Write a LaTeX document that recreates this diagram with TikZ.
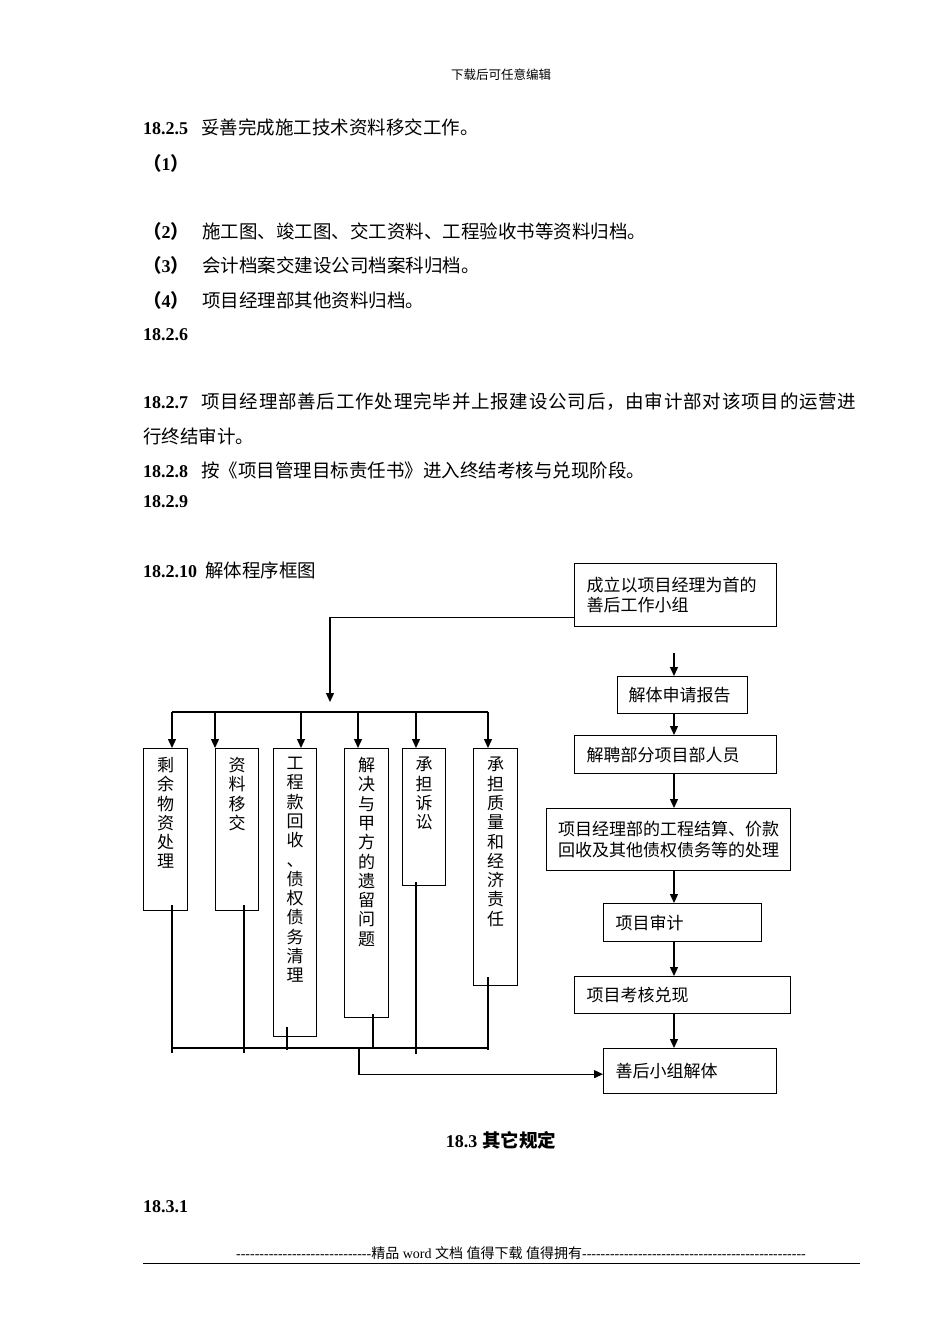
\documentclass[tikz,border=0pt]{standalone}
\usepackage{fontspec}
\setmainfont{Liberation Serif}
\newfontfamily\cjk{Noto Sans CJK SC}
\usetikzlibrary{positioning,arrows.meta}

\newcommand{\secno}[1]{{\rmfamily\bfseries\fontsize{18}{22}\selectfont #1}}
\newcommand{\bodyfont}{\cjk\fontsize{18.5}{22}\selectfont}
\newcommand{\boxfont}{\cjk\fontsize{17}{20.5}\selectfont}
\newcommand{\dashrun}[1]{\foreach \i in {1,...,#1}{-\kern0pt}}
\def\spreadloop#1{\ifx\relax#1\else#1\hfill\expandafter\spreadloop\fi}
\newcommand{\spreadto}[2]{\makebox[#1][l]{\spreadloop#2\relax}}

\begin{document}
\begin{tikzpicture}[x=1pt, y=-1pt]
    \tikzstyle{wire}=[line width=1.3pt]
    \tikzstyle{arr}=[wire, -{Triangle[length=9pt,width=8pt]}]
    \tikzstyle{body}=[anchor=west, inner sep=0pt, font=\bodyfont]
    \tikzstyle{hbox}=[draw, wire, anchor=north west, align=left, inner xsep=12pt, inner ysep=0pt, font=\boxfont]
    \tikzstyle{vbox}=[draw, wire, anchor=north west, inner sep=0pt]
    \tikzstyle{vtext}=[align=center, inner sep=0pt, font=\cjk\fontsize{17}{19.3}\selectfont]

    \fill[white] (0,0) rectangle (950,1344);
    \useasboundingbox (0,0) rectangle (950,1344);

    % page text
    \node[font=\cjk\fontsize{12.5}{14}\selectfont] (head) at (501,75) {下载后可任意编辑};
    \node[body] (s5) at (143,127) {\secno{18.2.5}\hspace{13pt}妥善完成施工技术资料移交工作。};
    \node[body] (i1) at (143,163) {\bfseries（\secno{1}）};
    \node[body] (i2) at (143,231) {\bfseries（\secno{2}）\mdseries\hspace{13pt}施工图、竣工图、交工资料、工程验收书等资料归档。};
    \node[body] (i3) at (143,265) {\bfseries（\secno{3}）\mdseries\hspace{13pt}会计档案交建设公司档案科归档。};
    \node[body] (i4) at (143,300) {\bfseries（\secno{4}）\mdseries\hspace{13pt}项目经理部其他资料归档。};
    \node[body] (s6) at (143,335) {\secno{18.2.6}};
    \node[body] (s7) at (143,402) {\secno{18.2.7}\hspace{13pt}\spreadto{656pt}{项目经理部善后工作处理完毕并上报建设公司后，由审计部对该项目的运营进}};
    \node[body] (s7b) at (143,436) {行终结审计。};
    \node[body] (s8) at (143,470) {\secno{18.2.8}\hspace{13pt}按《项目管理目标责任书》进入终结考核与兑现阶段。};
    \node[body] (s9) at (143,502) {\secno{18.2.9}};
    \node[body] (s10) at (143,570) {\secno{18.2.10}\hspace{8pt}解体程序框图};
    \node[font=\bodyfont\bfseries] (s3) at (501,1140) {\secno{18.3}\hspace{5pt}其它规定};
    \node[body] (s31) at (143,1207) {\secno{18.3.1}};
    \node[font=\rmfamily\fontsize{14}{16}\selectfont] (foot) at (521,1253) {\dashrun{29}{\cjk 精品} word {\cjk 文档} {\cjk 值得下载} {\cjk 值得拥有}\dashrun{48}};
    \coordinate (ruleL) at (143,1263);
    \coordinate (ruleR) at (860,1263);
    \draw[line width=1pt] (ruleL) -- (ruleR);

    % right column
    \node[hbox, text width=178pt, minimum height=63pt] (group) at (574,563) {成立以项目经理为首的\\善后工作小组};
    \node[hbox, inner xsep=11pt, text width=108pt, minimum height=37pt] (apply) at (617,676) {解体申请报告};
    \node[hbox, text width=178pt, minimum height=38pt] (dismiss) at (574,735) {解聘部分项目部人员};
    \node[hbox, inner xsep=11.5pt, text width=221pt, minimum height=62pt] (settle) at (546,808) {项目经理部的工程结算、价款\\回收及其他债权债务等的处理};
    \node[hbox, text width=134pt, minimum height=38pt] (audit) at (603,903) {项目审计};
    \node[hbox, text width=192pt, minimum height=37pt] (assess) at (574,976) {项目考核兑现};
    \node[hbox, text width=149pt, minimum height=45pt] (disband) at (603,1048) {善后小组解体};

    \coordinate (spine) at (674,0);
    \coordinate (gtop) at (674,653);
    \draw[arr] (gtop) -- (gtop |- apply.north);
    \draw[arr] (apply.south -| spine) -- (dismiss.north -| spine);
    \draw[arr] (dismiss.south -| spine) -- (settle.north -| spine);
    \draw[arr] (settle.south -| spine) -- (audit.north -| spine);
    \draw[arr] (audit.south -| spine) -- (assess.north -| spine);
    \draw[arr] (assess.south -| spine) -- (disband.north -| spine);

    % left branch boxes
    \node[vbox, minimum width=44pt, minimum height=162pt] (rest) at (143,748) {};
    \node[vbox, minimum width=43pt, minimum height=162pt] (docs) at (215,748) {};
    \node[vbox, minimum width=43pt, minimum height=288pt] (claims) at (273,748) {};
    \node[vbox, minimum width=44pt, minimum height=269pt] (owner) at (344,748) {};
    \node[vbox, minimum width=43pt, minimum height=137pt] (suit) at (402,748) {};
    \node[vbox, minimum width=44pt, minimum height=237pt] (liab) at (473,748) {};

    \node[vtext, below=9pt of rest.north] (restT) {剩\\余\\物\\资\\处\\理};
    \node[vtext, below=9pt of docs.north] (docsT) {资\\料\\移\\交};
    \node[vtext, below=9pt of claims.north] (claimsT) {工\\程\\款\\回\\收\\、\\债\\权\\债\\务\\清\\理};
    \node[vtext, below=9pt of owner.north] (ownerT) {解\\决\\与\\甲\\方\\的\\遗\\留\\问\\题};
    \node[vtext, below=9pt of suit.north] (suitT) {承\\担\\诉\\讼};
    \node[vtext, below=9pt of liab.north] (liabT) {承\\担\\质\\量\\和\\经\\济\\责\\任};

    % branch from the first box
    \coordinate (fork) at (330,702);
    \draw[arr] ([yshift=-22pt]group.west) -| (fork);
    \coordinate (busL) at (172,712);
    \coordinate (busR) at (488,712);
    \draw[wire] (busL) -- (busR);
    \foreach \n/\x in {rest/172, docs/215, claims/301, owner/358, suit/416, liab/488} {
        \coordinate (tap) at (\x,712);
        \draw[arr] (tap) -- (tap |- \n.north);
    }

    % joining lines at the bottom
    \foreach \n/\x/\up/\e in {rest/172/6/1053, docs/244/6/1053, claims/287/10/1050, owner/373/4/1049, suit/416/4/1054, liab/488/9/1050} {
        \coordinate (tail) at (\x,\e);
        \draw[wire] (\n.south -| tail) ++(0,-\up) -- (tail);
    }
    \coordinate (botL) at (172,1048);
    \coordinate (botR) at (488,1048);
    \draw[wire] (botL) -- (botR);
    \coordinate (drop) at (359,1048);
    \draw[arr] (drop) |- ([yshift=-3pt]disband.west);
\end{tikzpicture}
\end{document}
